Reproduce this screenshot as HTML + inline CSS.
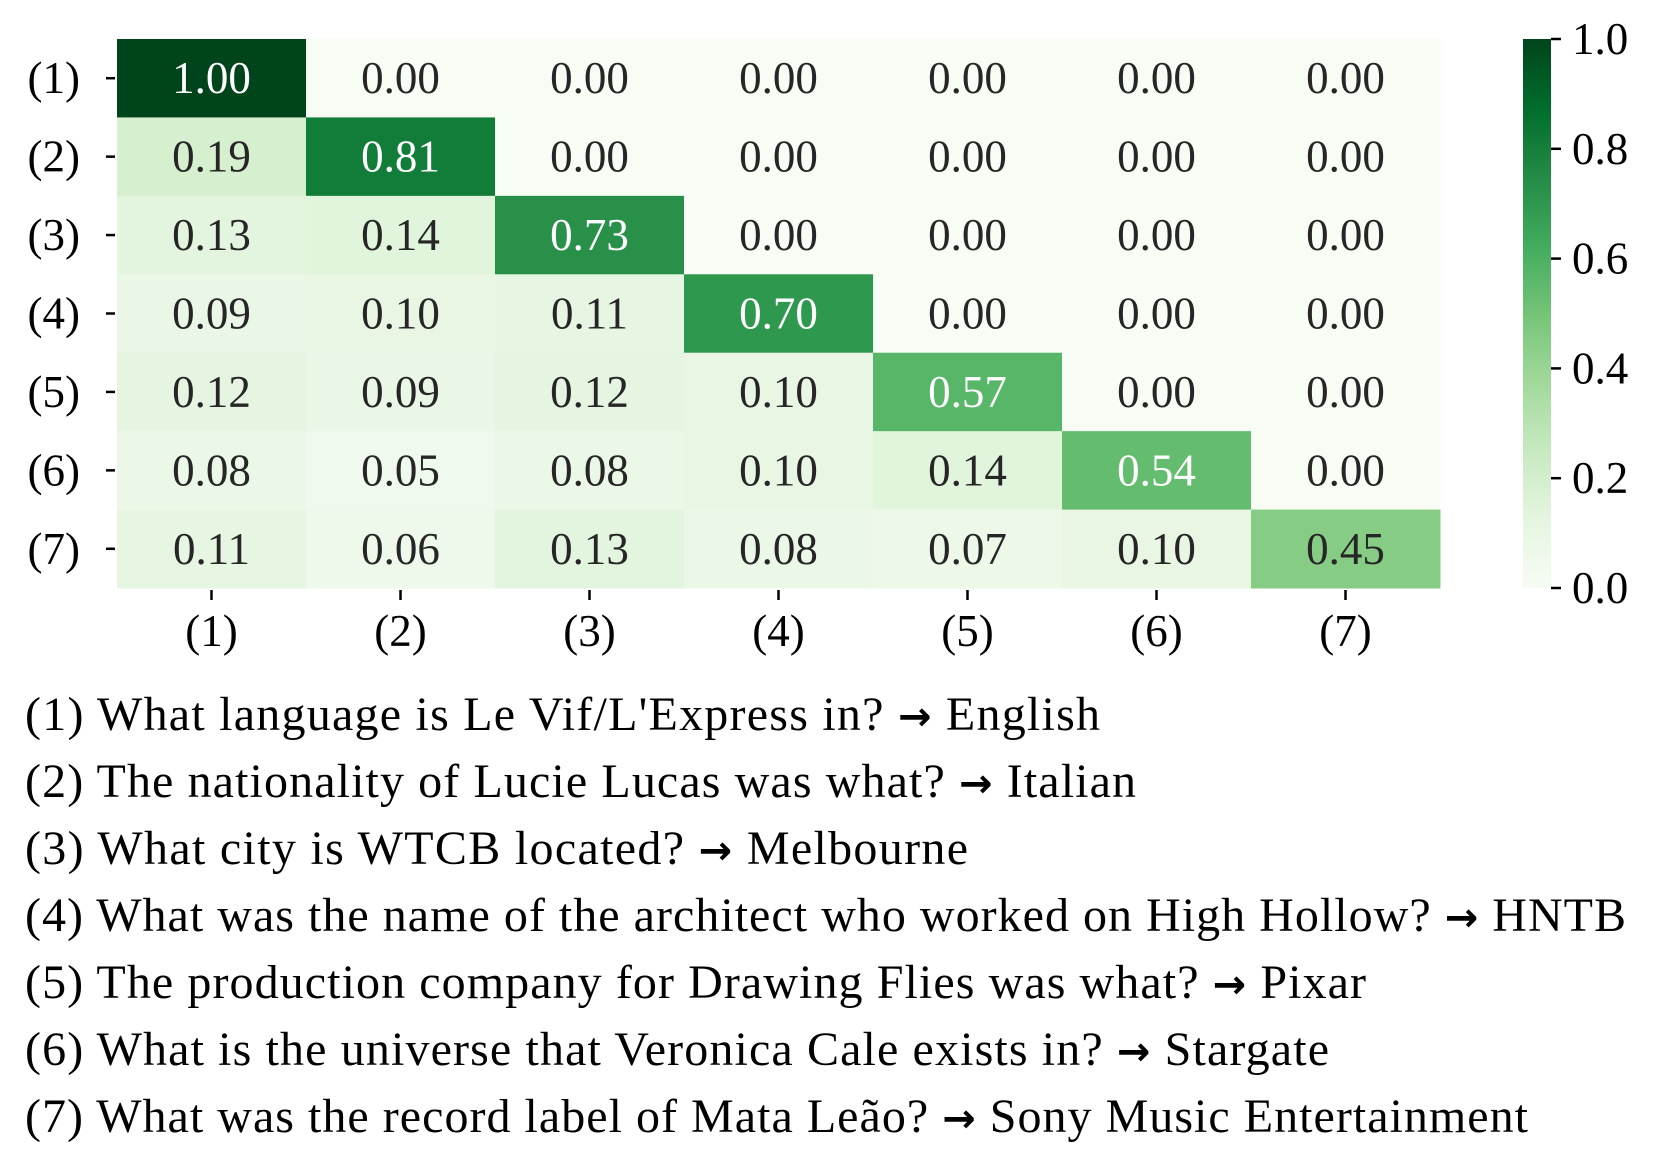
<!DOCTYPE html>
<html><head><meta charset="utf-8"><style>
html,body{margin:0;padding:0;background:#fff;}
svg{display:block;font-family:"Liberation Serif","DejaVu Serif",serif;}
</style></head><body>
<svg id="chart" width="1659" height="1166" viewBox="0 0 1659 1166" xmlns="http://www.w3.org/2000/svg">
<defs><linearGradient id="cbg" x1="0" y1="1" x2="0" y2="0">
<stop offset="0" stop-color="#f7fcf5"/><stop offset="0.125" stop-color="#e5f5e0"/><stop offset="0.25" stop-color="#c7e9c0"/><stop offset="0.375" stop-color="#a1d99b"/><stop offset="0.5" stop-color="#74c476"/><stop offset="0.625" stop-color="#41ab5d"/><stop offset="0.75" stop-color="#238b45"/><stop offset="0.875" stop-color="#006d2c"/><stop offset="1" stop-color="#00441b"/>
</linearGradient></defs>
<g id="cells"></g>
<g id="axes"></g>
<rect x="1523" y="39" width="28" height="549" fill="url(#cbg)"/>
<g id="cbar"></g>
<g id="legend" font-size="48" fill="#000"></g>
</svg>
<script>
const labels = ["(1)","(2)","(3)","(4)","(5)","(6)","(7)"];
const values = [
 [1.00,0.00,0.00,0.00,0.00,0.00,0.00],
 [0.19,0.81,0.00,0.00,0.00,0.00,0.00],
 [0.13,0.14,0.73,0.00,0.00,0.00,0.00],
 [0.09,0.10,0.11,0.70,0.00,0.00,0.00],
 [0.12,0.09,0.12,0.10,0.57,0.00,0.00],
 [0.08,0.05,0.08,0.10,0.14,0.54,0.00],
 [0.11,0.06,0.13,0.08,0.07,0.10,0.45]
];
const cbarTicks = [0.0,0.2,0.4,0.6,0.8,1.0];
const questions = [
 ["(1) What language is Le Vif/L'Express in?", "English"],
 ["(2) The nationality of Lucie Lucas was what?", "Italian"],
 ["(3) What city is WTCB located?", "Melbourne"],
 ["(4) What was the name of the architect who worked on High Hollow?", "HNTB"],
 ["(5) The production company for Drawing Flies was what?", "Pixar"],
 ["(6) What is the universe that Veronica Cale exists in?", "Stargate"],
 ["(7) What was the record label of Mata Leão?", "Sony Music Entertainment"]
];
const lineEnds = [1100,1136,968,1626,1366,1329,1528];
const NS="http://www.w3.org/2000/svg";
const L=117,T=39,W=1440-117,H=588-39;
const n=labels.length, cw=W/n, rh=H/n;
const xc=i=>L+(i+0.5)*cw, yc=j=>T+(j+0.5)*rh;
const stops=["#f7fcf5","#e5f5e0","#c7e9c0","#a1d99b","#74c476","#41ab5d","#238b45","#006d2c","#00441b"].map(h=>[1,3,5].map(k=>parseInt(h.substr(k,2),16)));
function color(v){v=Math.max(0,Math.min(1,v));const p=v*8,i=Math.min(7,Math.floor(p)),f=p-i;return stops[i].map((c,k)=>Math.round(c+(stops[i+1][k]-c)*f));}
function mk(tag,attrs,parent){const e=document.createElementNS(NS,tag);for(const k in attrs)e.setAttribute(k,attrs[k]);parent.appendChild(e);return e;}
const cells=document.getElementById('cells'),axes=document.getElementById('axes'),cbar=document.getElementById('cbar'),legend=document.getElementById('legend');
values.forEach((row,j)=>row.forEach((v,i)=>{
 const c=color(v);
 const r=mk('rect',{x:L+i*cw,y:T+j*rh,width:cw+0.5,height:rh+0.5,fill:`rgb(${c})`},cells);
 
 
 const lum=(0.2126*c[0]+0.7152*c[1]+0.0722*c[2])/255;
 const t=mk('text',{x:xc(i),y:yc(j)+15,'text-anchor':'middle','font-size':45,fill:lum<0.67?'#ffffff':'#262626'},cells);
 t.textContent=v.toFixed(2);
 
 
}));
labels.forEach((lb,i)=>{
 mk('line',{x1:xc(i),x2:xc(i),y1:590,y2:600,stroke:'#000','stroke-width':2.5},axes);
 const tx=mk('text',{x:xc(i),y:646,'text-anchor':'middle','font-size':45},axes);
 tx.textContent=lb;
 
 
 mk('line',{x1:106,x2:115,y1:yc(i),y2:yc(i),stroke:'#000','stroke-width':2.5},axes);
 const ty=mk('text',{x:80,y:yc(i)+15,'text-anchor':'end','font-size':45},axes);
 ty.textContent=lb;
 
 
});
cbarTicks.forEach(v=>{
 const y=588-v*549;
 mk('line',{x1:1551,x2:1561,y1:y,y2:y,stroke:'#000','stroke-width':2.5},cbar);
 const t=mk('text',{x:1572,y:y+15,'font-size':45},cbar);
 t.textContent=v.toFixed(1);
 
 
});
questions.forEach((q,k)=>{
 const t=mk('text',{x:25,y:730+k*67,textLength:lineEnds[k]-25,lengthAdjust:'spacing'},legend);
 const a=mk('tspan',{},t); a.textContent=q[0]+' ';
 const b=mk('tspan',{'font-family':'"DejaVu Sans",sans-serif','font-weight':'bold','font-size':40}, t); b.textContent='\u2192';
 const c=mk('tspan',{},t); c.textContent=' '+q[1];
 
 
});
</script>
</body></html>
